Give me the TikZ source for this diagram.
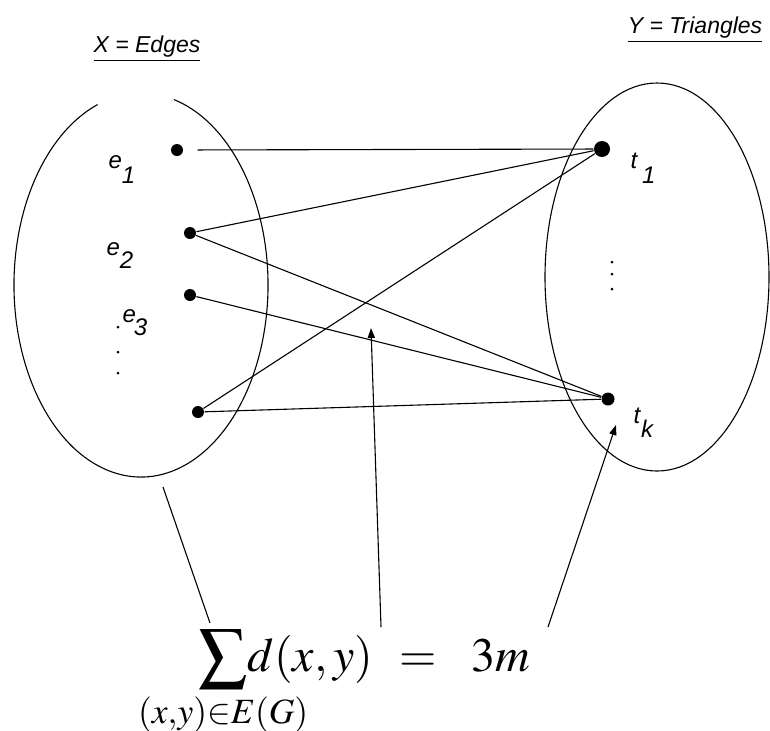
\documentclass[tikz,border=0pt]{standalone}
\usepackage{mathtools}
\usepackage{mathptmx}
\usepackage[no-math]{fontspec}
\setmainfont{Liberation Serif}
\setsansfont{Liberation Sans}
\usetikzlibrary{arrows.meta, positioning}

\begin{document}
\begin{tikzpicture}[x=0.5pt, y=-0.5pt, line width=0.55pt,
    dot/.style={circle, fill=black, inner sep=0pt, minimum size=6pt},
    vdot/.style={circle, fill=black, inner sep=0pt, minimum size=1.5pt},
    lbl/.style={font=\fontsize{12}{14}\selectfont\sffamily\itshape, inner sep=0pt, anchor=base west},
    ttl/.style={font=\fontsize{11.5}{13}\selectfont\sffamily\itshape, inner sep=0pt, anchor=base},
    arr/.style={-{Triangle[length=5pt, width=3.6pt]}}]
  \useasboundingbox (0,0) rectangle (770,730);

  % the two sets
  \coordinate (cX) at (141,285);
  \coordinate (cY) at (657,277);
  \draw ([shift={(-75:127 and 192)}]cX) arc[start angle=-75, end angle=250, x radius=127, y radius=192];
  \draw (cY) ellipse [x radius=112, y radius=194];
  \node[ttl] (X) at (147,52) {\underline{X = Edges}};
  \node[ttl] (Y) at (695,33) {\underline{Y = Triangles}};

  % edges
  \node[dot] (e1) at (177,150) {};
  \node[dot] (e2) at (190,233) {};
  \node[dot] (e3) at (190,295) {};
  \node[dot] (e4) at (198,412) {};
  \node[lbl] (l1) at (108,168) {e\raisebox{-7.5pt}{1}};
  \node[lbl] (l2) at (106,255) {e\raisebox{-6.5pt}{2}};
  \node[lbl] (l3) at (122,322) {e\kern-1pt\raisebox{-6.5pt}{3}};
  \foreach \y [count=\i] in {327,352,373}
    \node[vdot] (xd\i) at (118,\y) {};

  % triangles
  \node[dot, minimum size=8pt] (t1) at (602,149) {};
  \node[dot, minimum size=6.5pt] (tk) at (608,399) {};
  \node[lbl] (m1) at (630,168) {t\kern2.5pt\raisebox{-7.5pt}{1}};
  \node[lbl] (mk) at (633,423) {t\kern0.5pt\raisebox{-7pt}{k}};
  \foreach \y [count=\i] in {262,274,289}
    \node[vdot] (yd\i) at (612,\y) {};

  % incidences
  \draw[shorten <=7pt] (e1) -- (t1);
  \draw (e2) -- (t1);
  \draw (e2) -- (tk);
  \draw (e3) -- (tk);
  \draw (e4) -- (t1);
  \draw (e4) -- (tk);

  % the count
  \node[inner sep=0pt, anchor=base west, font=\fontsize{24}{28}\selectfont] (sum) at (198,671)
    {$\displaystyle\sum_{\mathclap{(x,y)\in E(G)}}\!d(x,y)\hspace{8pt}=\hspace{12pt}3m$};
  \coordinate (pX) at (210,623);
  \coordinate (pM) at (381,627);
  \coordinate (pY) at (548,627);
  \coordinate (qX) at (163,487);
  \coordinate (qM) at (371,328);
  \coordinate (qY) at (616,425);
  \draw (pX) -- (qX);
  \draw[arr] (pM) -- (qM);
  \draw[arr] (pY) -- (qY);
\end{tikzpicture}
\end{document}
